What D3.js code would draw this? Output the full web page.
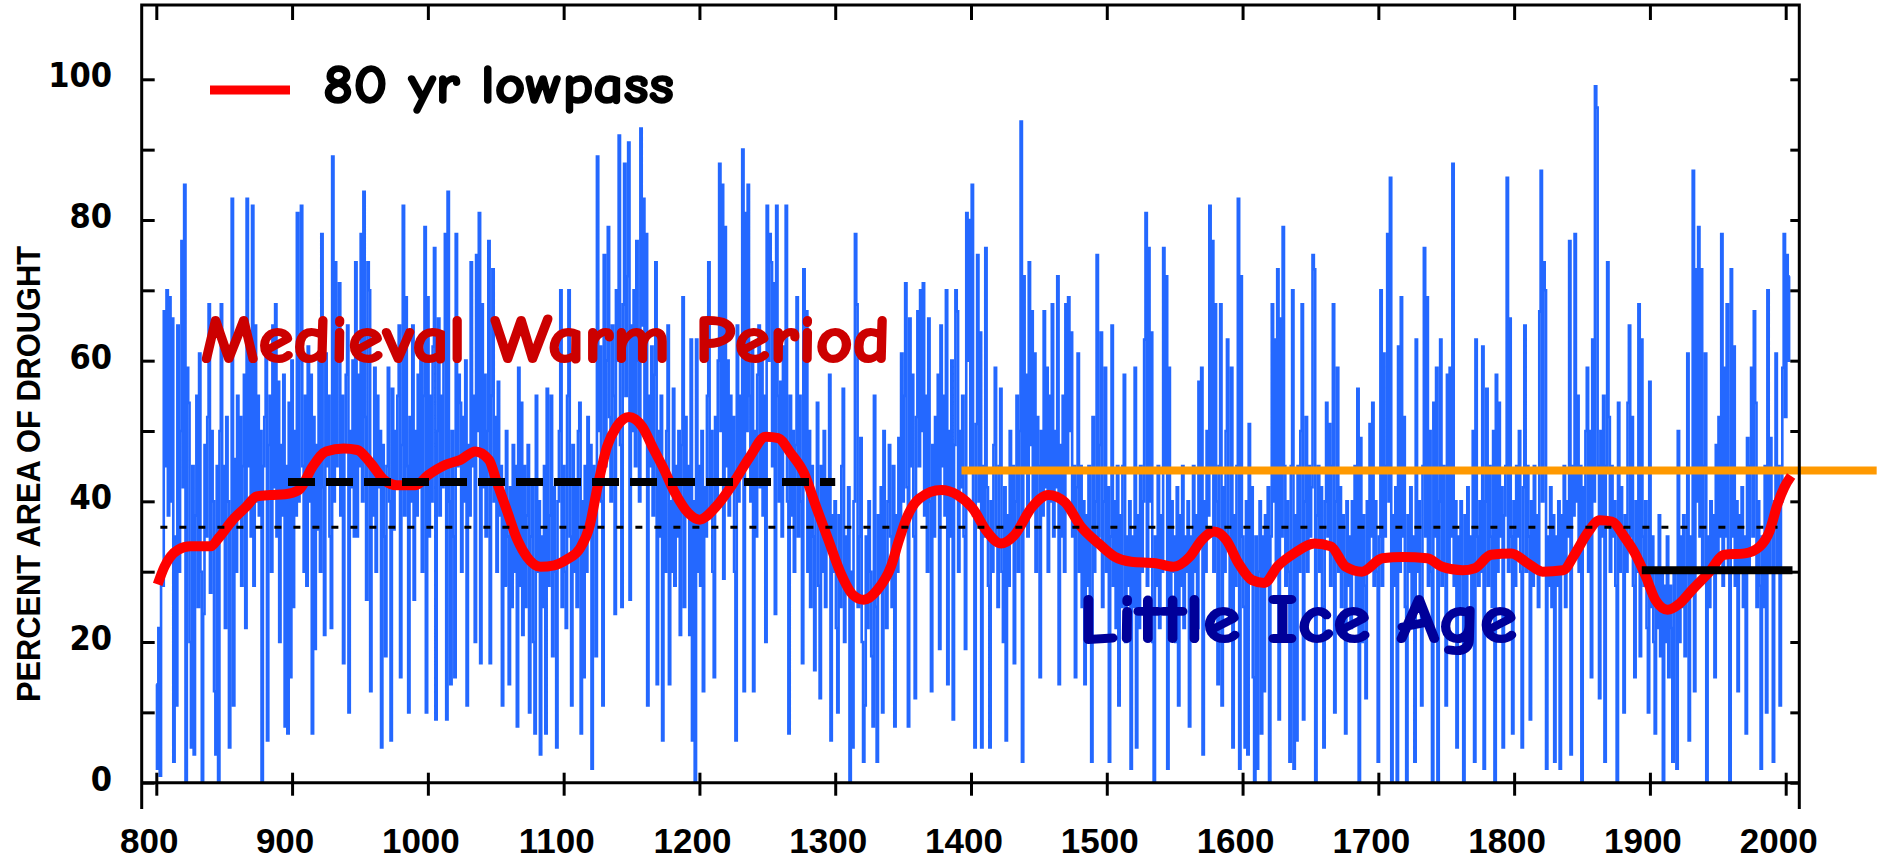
<!DOCTYPE html>
<html>
<head>
<meta charset="utf-8">
<script src="https://cdn.jsdelivr.net/npm/d3@7"></script>
<style>
  body { margin: 0; background: #fff; }
  svg { display: block; }
</style>
</head>
<body>
<script>
// Annual percent area of drought, one array per century
const drought0800 = [
  14, 2, 22, 1, 30, 28, 67, 45, 70, 38,
  69, 40, 66, 3, 35, 11, 65, 30, 50, 77,
  42, 85, 0, 59, 54, 20, 5, 45, 4, 38,
  55, 25, 61, 30, 0, 24, 48, 35, 52, 68,
  27, 50, 40, 13, 4, 45, 0, 50, 68, 35,
  45, 22, 52, 40, 5, 38, 83, 11, 46, 30,
  55, 38, 52, 28, 45, 58, 22, 83, 45, 60,
  35, 82, 28, 65, 40, 55, 38, 50, 0, 45,
  52, 61, 6, 48, 55, 30, 65, 42, 68, 35,
  57, 20, 48, 38, 58, 8, 45, 7, 54, 15
];
const drought0900 = [
  60, 25, 50, 38, 81, 40, 60, 82, 45, 30,
  55, 28, 62, 40, 58, 7, 52, 19, 48, 36,
  60, 30, 78, 42, 21, 61, 45, 55, 35, 22,
  89, 40, 74, 45, 60, 71, 38, 55, 17, 48,
  58, 65, 10, 50, 42, 60, 35, 74, 35, 58,
  45, 78, 40, 84, 52, 26, 74, 70, 13, 45,
  38, 59, 30, 55, 42, 50, 5, 48, 35, 18,
  45, 59, 40, 6, 56, 36, 50, 42, 55, 65,
  15, 48, 82, 38, 69, 45, 10, 52, 40, 65,
  26, 50, 38, 58, 42, 60, 30, 55, 79, 10
];
const drought1000 = [
  69, 35, 55, 40, 62, 76, 9, 50, 66, 38,
  55, 42, 60, 78, 9, 84, 40, 14, 50, 35,
  15, 78, 45, 58, 54, 30, 52, 40, 60, 11,
  48, 38, 74, 45, 55, 20, 75, 50, 81, 17,
  68, 42, 58, 35, 50, 77, 17, 55, 73, 40,
  52, 30, 57, 38, 45, 11, 40, 28, 50, 35,
  14, 42, 25, 48, 30, 45, 8, 59, 28, 54,
  21, 45, 25, 38, 48, 10, 35, 42, 20, 7,
  55, 30, 40, 4, 35, 25, 45, 7, 56, 28,
  38, 55, 18, 42, 30, 5, 40, 50, 70, 25
];
const drought1100 = [
  45, 30, 22, 55, 70, 35, 11, 48, 30, 42,
  25, 50, 54, 7, 40, 15, 45, 30, 52, 35,
  48, 2, 45, 38, 18, 89, 50, 62, 40, 11,
  75, 45, 60, 79, 52, 40, 65, 55, 24, 70,
  60, 92, 48, 25, 68, 88, 55, 72, 91, 26,
  65, 50, 70, 45, 77, 60, 40, 93, 65, 83,
  50, 78, 11, 55, 45, 62, 38, 58, 74, 14,
  50, 35, 55, 6, 45, 30, 50, 65, 14, 40,
  30, 56, 28, 45, 35, 50, 21, 48, 69, 25,
  52, 38, 45, 21, 63, 6, 40, 0, 63, 30
];
const drought1200 = [
  45, 28, 50, 13, 42, 35, 55, 74, 38, 50,
  30, 15, 52, 40, 60, 88, 50, 85, 29, 79,
  45, 60, 38, 55, 42, 52, 30, 6, 65, 40,
  55, 45, 90, 13, 81, 50, 85, 55, 40, 62,
  13, 50, 35, 58, 65, 42, 60, 38, 55, 20,
  82, 60, 78, 74, 45, 71, 24, 82, 55, 40,
  57, 35, 62, 48, 82, 40, 7, 55, 38, 50,
  30, 48, 69, 35, 55, 40, 17, 73, 45, 67,
  30, 50, 25, 45, 35, 16, 40, 54, 28, 12,
  45, 30, 50, 25, 42, 35, 58, 6, 38, 30
];
const drought1300 = [
  40, 22, 10, 38, 25, 45, 56, 20, 35, 28,
  42, 0, 30, 5, 40, 78, 68, 25, 35, 49,
  20, 3, 11, 35, 22, 40, 30, 18, 8, 55,
  25, 3, 38, 28, 42, 10, 50, 30, 22, 40,
  48, 35, 25, 45, 8, 38, 30, 49, 35, 61,
  40, 55, 71, 42, 8, 66, 45, 58, 35, 12,
  52, 67, 45, 70, 50, 71, 38, 55, 30, 66,
  40, 13, 48, 35, 52, 42, 58, 19, 65, 45,
  55, 38, 70, 14, 50, 35, 60, 9, 48, 70,
  67, 30, 50, 42, 55, 35, 19, 81, 60, 80
];
const drought1400 = [
  45, 85, 38, 5, 51, 75, 40, 64, 5, 45,
  35, 76, 42, 28, 5, 40, 30, 48, 59, 35,
  25, 45, 56, 30, 20, 42, 6, 38, 28, 50,
  35, 45, 17, 40, 55, 30, 50, 94, 3, 72,
  45, 58, 35, 74, 48, 67, 40, 61, 30, 52,
  45, 15, 50, 38, 67, 42, 59, 30, 55, 40,
  68, 35, 50, 42, 72, 14, 48, 35, 55, 30,
  68, 45, 69, 50, 64, 35, 45, 15, 42, 61,
  30, 45, 25, 40, 14, 38, 28, 45, 20, 3,
  52, 30, 40, 75, 35, 48, 64, 25, 40, 59
];
const drought1500 = [
  30, 42, 3, 35, 65, 28, 40, 22, 45, 11,
  38, 25, 45, 58, 20, 35, 28, 40, 2, 35,
  25, 59, 5, 38, 22, 45, 30, 40, 63, 81,
  28, 76, 40, 64, 20, 0, 35, 28, 45, 22,
  38, 30, 76, 45, 72, 2, 59, 25, 40, 30,
  35, 20, 42, 11, 38, 28, 45, 22, 35, 30,
  40, 8, 35, 25, 45, 30, 38, 22, 57, 35,
  59, 4, 40, 30, 50, 38, 82, 45, 77, 30,
  68, 40, 14, 45, 68, 11, 42, 30, 50, 63,
  35, 25, 59, 5, 38, 28, 45, 83, 2, 72
];
const drought1600 = [
  35, 25, 5, 40, 4, 51, 30, 42, 15, 0,
  35, 2, 30, 40, 7, 35, 13, 38, 28, 42,
  0, 35, 68, 40, 63, 30, 73, 9, 66, 35,
  79, 45, 28, 40, 30, 3, 45, 70, 2, 38,
  6, 45, 30, 50, 68, 9, 40, 52, 30, 45,
  35, 42, 75, 73, 0, 38, 45, 30, 42, 25,
  5, 40, 54, 35, 51, 28, 45, 68, 10, 40,
  59, 30, 42, 25, 38, 30, 7, 40, 28, 35,
  22, 40, 30, 45, 25, 56, 0, 49, 20, 38,
  28, 12, 40, 30, 51, 35, 54, 28, 40, 30
];
const drought1700 = [
  3, 35, 70, 28, 61, 35, 45, 78, 40, 86,
  0, 38, 28, 42, 0, 62, 30, 69, 35, 52,
  25, 0, 38, 30, 42, 25, 35, 3, 63, 30,
  40, 25, 11, 45, 76, 35, 69, 28, 50, 30,
  0, 54, 35, 59, 0, 40, 63, 28, 45, 30,
  11, 58, 30, 59, 35, 88, 28, 40, 5, 35,
  25, 40, 30, 0, 38, 25, 42, 30, 35, 22,
  50, 3, 63, 35, 28, 40, 30, 62, 2, 40,
  56, 28, 45, 35, 25, 50, 0, 58, 30, 54,
  35, 42, 5, 38, 45, 86, 30, 66, 35, 7
];
const drought1800 = [
  40, 28, 45, 35, 50, 30, 5, 42, 65, 30,
  45, 35, 9, 40, 28, 45, 30, 38, 25, 67,
  87, 40, 74, 70, 2, 35, 28, 42, 25, 38,
  3, 35, 28, 40, 2, 38, 30, 45, 25, 40,
  35, 77, 4, 45, 38, 78, 40, 55, 30, 45,
  0, 42, 35, 50, 59, 30, 50, 15, 63, 40,
  99, 96, 45, 12, 50, 35, 55, 3, 45, 74,
  52, 30, 45, 35, 40, 28, 0, 54, 30, 42,
  35, 10, 38, 30, 54, 65, 35, 52, 28, 15,
  40, 30, 68, 18, 63, 35, 28, 40, 22, 10
];
const drought1900 = [
  57, 25, 35, 20, 7, 30, 22, 38, 18, 30,
  0, 28, 20, 35, 15, 28, 22, 3, 30, 25,
  2, 50, 20, 35, 25, 38, 18, 30, 61, 6,
  35, 28, 87, 13, 73, 40, 79, 35, 73, 30,
  45, 61, 0, 35, 25, 40, 30, 38, 15, 48,
  30, 52, 35, 78, 28, 59, 35, 68, 30, 0,
  73, 35, 62, 28, 40, 13, 38, 30, 42, 25,
  35, 7, 49, 30, 45, 59, 35, 67, 54, 25,
  40, 28, 2, 35, 25, 45, 10, 70, 30, 49,
  35, 3, 40, 61, 30, 45, 11, 40, 59, 78
];
const drought2000 = [52, 75, 60, 72];

// 80 yr lowpass, [year, percent]
const lowpass = [
  [801, 28.2], [806, 30.7], [816, 33.1], [825, 33.6], [840, 33.6], [846, 34.8],
  [856, 37.3], [866, 39.2], [874, 40.7], [884, 40.9], [895, 41.0], [905, 41.6],
  [915, 44.9], [925, 47.1], [938, 47.5], [948, 47.3], [958, 45.4], [968, 43.0],
  [977, 42.3], [991, 42.3], [1000, 43.7], [1013, 45.2], [1024, 45.9], [1035, 47.1],
  [1045, 45.9], [1051, 42.6], [1058, 38.8], [1066, 34.5], [1073, 32.1], [1083, 30.7],
  [1093, 30.9], [1102, 31.7], [1112, 33.3], [1119, 36.4], [1125, 42.1], [1132, 47.8],
  [1139, 50.6], [1148, 52.0], [1158, 50.6], [1166, 47.5], [1173, 44.9], [1182, 41.2],
  [1192, 38.3], [1200, 37.4], [1212, 39.2], [1225, 42.6], [1237, 46.3], [1249, 49.2],
  [1258, 49.0], [1267, 46.9], [1277, 44.0], [1286, 39.2], [1295, 34.5], [1304, 29.8],
  [1313, 26.7], [1321, 26.0], [1331, 27.4], [1341, 30.7], [1347, 34.5], [1353, 37.8],
  [1362, 40.4], [1378, 41.6], [1390, 40.9], [1402, 38.8], [1411, 35.9], [1422, 34.0],
  [1432, 35.2], [1445, 39.2], [1457, 40.9], [1469, 39.9], [1481, 36.4], [1494, 34.0],
  [1506, 32.1], [1518, 31.4], [1536, 31.2], [1549, 30.7], [1561, 32.1], [1570, 34.5],
  [1579, 35.7], [1588, 34.5], [1597, 31.2], [1607, 28.8], [1616, 28.4], [1626, 30.8],
  [1638, 32.6], [1653, 34.0], [1665, 33.6], [1676, 30.7], [1688, 30.0], [1703, 31.9],
  [1718, 32.1], [1736, 31.9], [1747, 30.7], [1762, 30.2], [1771, 30.5], [1783, 32.4],
  [1798, 32.6], [1810, 31.2], [1821, 30.0], [1836, 30.2], [1845, 32.6], [1854, 35.5],
  [1863, 37.3], [1872, 37.1], [1881, 35.0], [1889, 32.6], [1897, 29.3], [1904, 26.0],
  [1913, 24.6], [1922, 25.5], [1931, 27.4], [1943, 29.8], [1955, 32.4], [1970, 32.6],
  [1981, 33.6], [1988, 35.7], [1994, 39.6], [1999, 42.0], [2004, 43.6]
];

// reference lines: [start year, end year, percent]
const longTermMean = [803, 1994, 36.3];
const medievalMean = [897, 1300, 42.75];
const modernMean = [1894, 2005, 30.2];
const recentLevel = [1393, 2067, 44.4];

const xTickYears = [800, 900, 1000, 1100, 1200, 1300, 1400, 1500, 1600, 1700, 1800, 1900, 2000];
const yTickValues = [0, 10, 20, 30, 40, 50, 60, 70, 80, 90, 100];
const yLabelValues = [0, 20, 40, 60, 80, 100];

const width = 1879, height = 862;
const frame = {left: 141.7, right: 1799.3, top: 5, bottom: 809};

const svg = d3.select("body").append("svg")
    .attr("width", width)
    .attr("height", height);

const xScale = d3.scaleLinear().domain([800, 2000]).range([156.3, 1785.7]);
const yScale = d3.scaleLinear().domain([0, 100]).range([782.7, 79.3]);

// annual series
const series = [].concat(drought0800, drought0900, drought1000, drought1100, drought1200,
    drought1300, drought1400, drought1500, drought1600, drought1700, drought1800,
    drought1900, drought2000).map((v, i) => ({year: 800 + i, value: v}));

svg.append("path")
    .datum(series)
    .attr("fill", "none")
    .attr("stroke", "#2468ff")
    .attr("stroke-width", 2.6)
    .attr("d", d3.line()
        .x(d => xScale(d.year))
        .y(d => yScale(d.value))
        .curve(d3.curveStep));

// orange level line (runs past the frame)
svg.append("line")
    .attr("x1", xScale(recentLevel[0])).attr("x2", xScale(recentLevel[1]))
    .attr("y1", yScale(recentLevel[2])).attr("y2", yScale(recentLevel[2]))
    .attr("stroke", "#ff9900")
    .attr("stroke-width", 8);

// lowpass
svg.append("path")
    .datum(lowpass)
    .attr("fill", "none")
    .attr("stroke", "#ff0000")
    .attr("stroke-width", 10)
    .attr("d", d3.line()
        .x(d => xScale(d[0]))
        .y(d => yScale(d[1]))
        .curve(d3.curveMonotoneX));

// mean lines
function refLine(r, w, dash) {
    svg.append("line")
        .attr("x1", xScale(r[0])).attr("x2", xScale(r[1]))
        .attr("y1", yScale(r[2])).attr("y2", yScale(r[2]))
        .attr("stroke", "#000")
        .attr("stroke-width", w)
        .attr("stroke-dasharray", dash);
}
refLine(longTermMean, 3, "7,12");
refLine(medievalMean, 8, "27,11");
refLine(modernMean, 8, null);

// frame
svg.append("path")
    .attr("fill", "none")
    .attr("stroke", "#000")
    .attr("stroke-width", 3)
    .attr("d", `M${frame.left},${frame.bottom}V${frame.top}H${frame.right}V${frame.bottom}`);
svg.append("line")
    .attr("x1", frame.left).attr("x2", frame.right)
    .attr("y1", yScale(0)).attr("y2", yScale(0))
    .attr("stroke", "#000").attr("stroke-width", 3);

// ticks from d3 axes
function ticks(g) {
    g.select(".domain").remove();
    g.selectAll("line").attr("stroke", "#000").attr("stroke-width", 3);
    g.selectAll("text").remove();
}
svg.append("g").attr("transform", `translate(0,${yScale(0)})`)
    .call(d3.axisBottom(xScale).tickValues(xTickYears).tickSize(13)).call(ticks);
svg.append("g").attr("transform", `translate(0,${yScale(0)})`)
    .call(d3.axisTop(xScale).tickValues(xTickYears).tickSize(10)).call(ticks);
svg.append("g").attr("transform", `translate(0,${frame.top})`)
    .call(d3.axisBottom(xScale).tickValues(xTickYears).tickSize(15)).call(ticks);
svg.append("g").attr("transform", `translate(${frame.left},0)`)
    .call(d3.axisRight(yScale).tickValues(yTickValues).tickSize(13)).call(ticks);
svg.append("g").attr("transform", `translate(${frame.right},0)`)
    .call(d3.axisLeft(yScale).tickValues(yTickValues).tickSize(9)).call(ticks);

// tick labels
svg.selectAll(".xlabel")
    .data(xTickYears)
    .enter().append("text")
    .attr("class", "xlabel")
    .attr("x", d => xScale(d) - 7)
    .attr("y", 853)
    .attr("text-anchor", "middle")
    .style("font-family", "'Liberation Sans', Arial, sans-serif")
    .style("font-weight", "bold")
    .style("font-size", "35px")
    .text(d => d);

svg.selectAll(".ylabel")
    .data(yLabelValues)
    .enter().append("text")
    .attr("class", "ylabel")
    .attr("x", 112)
    .attr("y", d => yScale(d) + 8)
    .attr("text-anchor", "end")
    .style("font-family", "'Liberation Sans Narrow', 'Arial Narrow', 'DejaVu Sans Condensed', sans-serif")
    .style("font-weight", "bold")
    .style("font-size", "34px")
    .text(d => d);

svg.append("text")
    .attr("transform", "translate(40,474) rotate(-90)")
    .attr("text-anchor", "middle")
    .attr("textLength", 456)
    .attr("lengthAdjust", "spacingAndGlyphs")
    .style("font-family", "'Liberation Sans', Arial, sans-serif")
    .style("font-weight", "bold")
    .style("font-size", "33px")
    .text("PERCENT AREA OF DROUGHT");

// legend
svg.append("line")
    .attr("x1", 210).attr("x2", 290)
    .attr("y1", 90).attr("y2", 90)
    .attr("stroke", "#ff0000")
    .attr("stroke-width", 9);

const comic = "'Comic Sans MS', 'Comic Neue', Lato, sans-serif";

// heavier strokes stand in for the chunky comic bold
svg.append("text")
    .attr("x", 323).attr("y", 103)
    .attr("textLength", 351)
    .attr("lengthAdjust", "spacingAndGlyphs")
    .attr("fill", "#000")
    .attr("stroke", "#000")
    .attr("stroke-width", 1.6)
    .style("font-family", comic)
    .style("font-weight", "bold")
    .style("font-size", "54px")
    .text("80 yr lowpass");

// period annotations
svg.append("text")
    .attr("x", 201).attr("y", 362)
    .attr("textLength", 689)
    .attr("lengthAdjust", "spacingAndGlyphs")
    .attr("fill", "#cc0000")
    .attr("stroke", "#cc0000")
    .attr("stroke-width", 2.2)
    .attr("stroke-linejoin", "round")
    .style("font-family", comic)
    .style("font-weight", "bold")
    .style("font-size", "66px")
    .text("Medieval Warm Period");

svg.append("text")
    .attr("x", 1079).attr("y", 642)
    .attr("textLength", 438)
    .attr("lengthAdjust", "spacingAndGlyphs")
    .attr("fill", "#000099")
    .attr("stroke", "#000099")
    .attr("stroke-width", 2.2)
    .attr("stroke-linejoin", "round")
    .style("font-family", comic)
    .style("font-weight", "bold")
    .style("font-size", "68px")
    .text("Little Ice Age");
</script>
</body>
</html>
